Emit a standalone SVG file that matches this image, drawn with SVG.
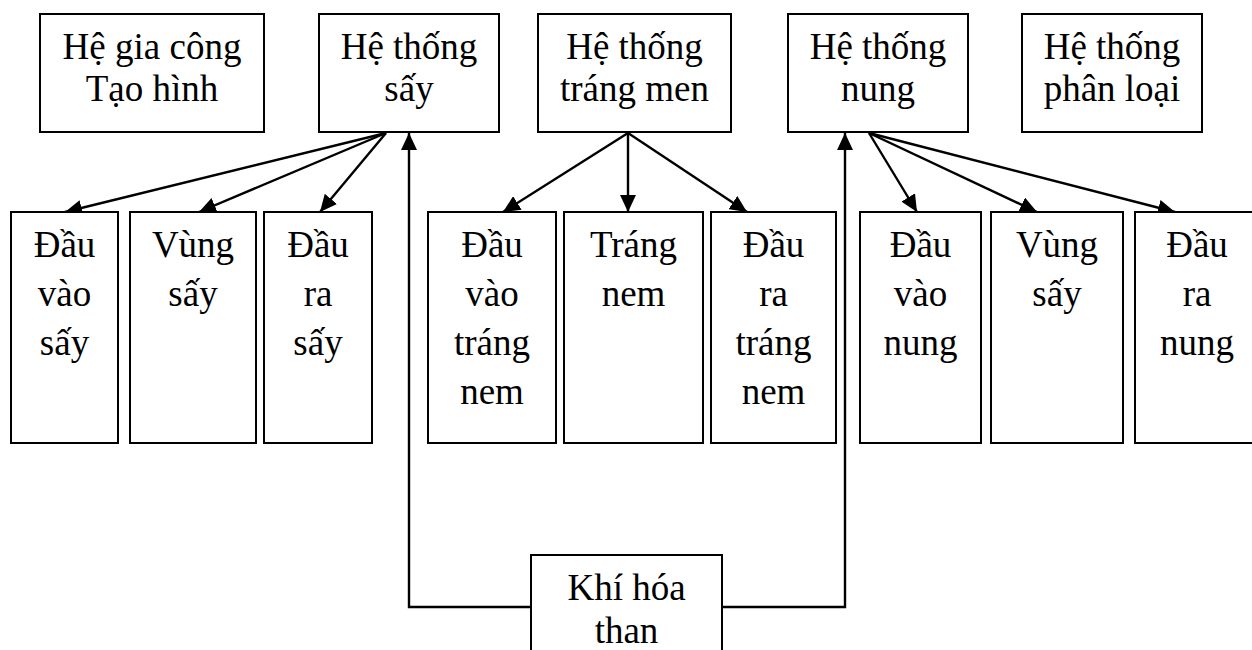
<svg xmlns="http://www.w3.org/2000/svg" width="1252" height="650" viewBox="0 0 1252 650">
<style>
.box{fill:#fff;stroke:#000;stroke-width:2}
text{font-family:'Liberation Serif','DejaVu Serif',serif;font-size:37px;fill:#000;text-anchor:middle}
.c{fill:none;stroke:#000;stroke-width:2.4}
</style>
<defs>
<marker id="ah" markerUnits="userSpaceOnUse" markerWidth="17" markerHeight="16" viewBox="0 0 17 16" refX="17" refY="8" orient="auto">
<path d="M0,0 L17,8 L0,16 Z" fill="#000"/>
</marker>
</defs>
<rect width="1252" height="650" fill="#fff"/>
<g id="connectors">
<line class="c" x1="386" y1="133" x2="65" y2="212" marker-end="url(#ah)"/>
<line class="c" x1="386" y1="133" x2="199" y2="212" marker-end="url(#ah)"/>
<line class="c" x1="386" y1="133" x2="320" y2="212" marker-end="url(#ah)"/>
<line class="c" x1="628" y1="133" x2="503" y2="212" marker-end="url(#ah)"/>
<line class="c" x1="628" y1="133" x2="628" y2="212" marker-end="url(#ah)"/>
<line class="c" x1="628" y1="133" x2="747" y2="212" marker-end="url(#ah)"/>
<line class="c" x1="869" y1="133" x2="917" y2="212" marker-end="url(#ah)"/>
<line class="c" x1="869" y1="133" x2="1037" y2="212" marker-end="url(#ah)"/>
<line class="c" x1="869" y1="133" x2="1175" y2="212" marker-end="url(#ah)"/>
<polyline class="c" points="531,607 409,607 409,133" marker-end="url(#ah)"/>
<polyline class="c" points="722,607 845,607 845,133" marker-end="url(#ah)"/>
</g>
<g id="n-giacong"><rect class="box" x="40" y="14" width="224" height="118"/><text x="152" y="59">Hệ gia công</text><text x="152" y="101">Tạo hình</text></g>
<g id="n-say"><rect class="box" x="319" y="14" width="180" height="118"/><text x="409" y="59">Hệ thống</text><text x="409" y="101">sấy</text></g>
<g id="n-trangmen"><rect class="box" x="538" y="14" width="193" height="118"/><text x="634.5" y="59">Hệ thống</text><text x="634.5" y="101">tráng men</text></g>
<g id="n-nung"><rect class="box" x="788" y="14" width="180" height="118"/><text x="878" y="59">Hệ thống</text><text x="878" y="101">nung</text></g>
<g id="n-phanloai"><rect class="box" x="1022" y="14" width="180" height="118"/><text x="1112" y="59">Hệ thống</text><text x="1112" y="101">phân loại</text></g>
<g id="n-dauvaosay"><rect class="box" x="11" y="212" width="107" height="231"/><text x="64.5" y="257">Đầu</text><text x="64.5" y="306">vào</text><text x="64.5" y="355">sấy</text></g>
<g id="n-vungsay1"><rect class="box" x="130" y="212" width="126" height="231"/><text x="193" y="257">Vùng</text><text x="193" y="306">sấy</text></g>
<g id="n-daurasay"><rect class="box" x="264" y="212" width="108" height="231"/><text x="318" y="257">Đầu</text><text x="318" y="306">ra</text><text x="318" y="355">sấy</text></g>
<g id="n-dauvaotrang"><rect class="box" x="428" y="212" width="128" height="231"/><text x="492" y="257">Đầu</text><text x="492" y="306">vào</text><text x="492" y="355">tráng</text><text x="492" y="404">nem</text></g>
<g id="n-trangnem"><rect class="box" x="564" y="212" width="139" height="231"/><text x="633.5" y="257">Tráng</text><text x="633.5" y="306">nem</text></g>
<g id="n-dauratrang"><rect class="box" x="711" y="212" width="125" height="231"/><text x="773.5" y="257">Đầu</text><text x="773.5" y="306">ra</text><text x="773.5" y="355">tráng</text><text x="773.5" y="404">nem</text></g>
<g id="n-dauvaonung"><rect class="box" x="860" y="212" width="121" height="231"/><text x="920.5" y="257">Đầu</text><text x="920.5" y="306">vào</text><text x="920.5" y="355">nung</text></g>
<g id="n-vungsay2"><rect class="box" x="991" y="212" width="132" height="231"/><text x="1057" y="257">Vùng</text><text x="1057" y="306">sấy</text></g>
<g id="n-dauranung"><rect class="box" x="1135" y="212" width="124" height="231"/><text x="1197" y="257">Đầu</text><text x="1197" y="306">ra</text><text x="1197" y="355">nung</text></g>
<g id="n-khihoa"><rect class="box" x="531" y="555" width="191" height="110"/><text x="626.5" y="600">Khí hóa</text><text x="626.5" y="643">than</text></g>
</svg>
